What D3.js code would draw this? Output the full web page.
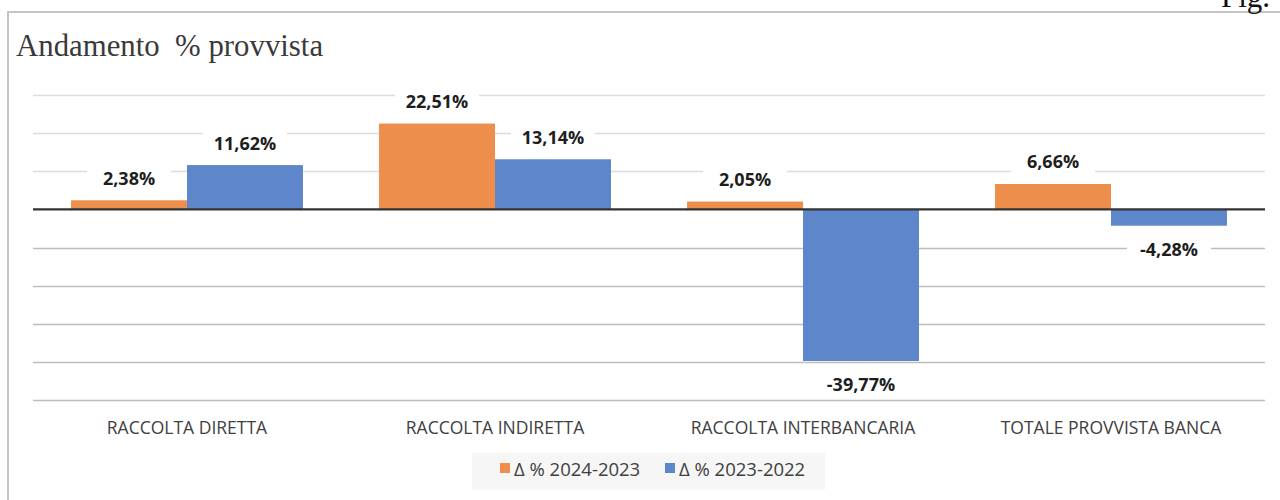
<!DOCTYPE html>
<html>
<head>
<meta charset="utf-8">
<script src="https://cdn.jsdelivr.net/npm/d3@7"></script>
<style>
  html, body { margin: 0; padding: 0; background: #fff; }
  svg { display: block; }
  text { white-space: pre; }
</style>
</head>
<body>
<svg id="chart" width="1280" height="500"></svg>
<script>
// Categories and series
const categories = ["RACCOLTA DIRETTA", "RACCOLTA INDIRETTA", "RACCOLTA INTERBANCARIA", "TOTALE PROVVISTA BANCA"];
const seriesNames = ["Δ % 2024-2023", "Δ % 2023-2022"];
const values2024_2023 = [2.38, 22.51, 2.05, 6.66];
const values2023_2022 = [11.62, 13.14, -39.77, -4.28];
const yTicks = [-50, -40, -30, -20, -10, 0, 10, 20, 30];
const colors = ["#EE8E4D", "#5E86CB"];

const seriesValues = [values2024_2023, values2023_2022];
const fmt = v => v.toFixed(2).replace(".", ",") + "%";

const svg = d3.select("#chart");
const sans = "'Open Sans', 'Liberation Sans', sans-serif";
const serif = "'Liberation Serif', 'DejaVu Serif', serif";

// Outer frame
svg.append("path")
  .attr("d", "M8,500 L8,12 L1280,12")
  .attr("fill", "none")
  .attr("stroke", "#c4c4c4")
  .attr("stroke-width", 2);

// Figure caption at top right (runs past the top of the page)
svg.append("text")
  .attr("x", 1221).attr("y", 7)
  .attr("font-family", serif).attr("font-size", 31)
  .attr("fill", "#111")
  .text("Fig.");

// Title
svg.append("text")
  .attr("x", 16).attr("y", 56)
  .attr("font-family", serif).attr("font-size", 30.8)
  .attr("fill", "#3a3a3a")
  .text("Andamento  % provvista");

// Scales
const x0 = d3.scaleBand().domain(categories).range([33, 1265]).paddingInner(0).paddingOuter(0);
const x1 = d3.scaleBand().domain(seriesNames).range([0, x0.bandwidth()]).paddingInner(0).paddingOuter(0.328);
const y = d3.scaleLinear().domain([-50, 30]).range([400, 95]);

// Gridlines
svg.append("g")
  .selectAll("line")
  .data(yTicks.filter(t => t !== 0))
  .join("line")
  .attr("x1", 33).attr("x2", 1265)
  .attr("y1", d => Math.round(y(d)) + 0.5)
  .attr("y2", d => Math.round(y(d)) + 0.5)
  .attr("stroke", d => d > 0 ? "#dcdcdc" : "#bdbdbd")
  .attr("stroke-width", 1.6);

// Bars
const groups = svg.append("g")
  .selectAll("g")
  .data(categories)
  .join("g")
  .attr("transform", d => `translate(${x0(d)},0)`);

const barData = (c, i) => seriesNames.map((s, k) => ({ s, k, v: seriesValues[k][i] }));

groups.selectAll("rect")
  .data((c, i) => barData(c, i))
  .join("rect")
  .attr("x", d => x1(d.s))
  .attr("width", x1.bandwidth())
  .attr("y", d => y(Math.max(0, d.v)))
  .attr("height", d => Math.abs(y(d.v) - y(0)))
  .attr("fill", d => colors[d.k]);

// Zero line
svg.append("line")
  .attr("x1", 33).attr("x2", 1265)
  .attr("y1", y(0)).attr("y2", y(0))
  .attr("stroke", "#333")
  .attr("stroke-width", 2.2);

// Value labels with white background
const labels = groups.selectAll("g.lbl")
  .data((c, i) => barData(c, i))
  .join("g")
  .attr("class", "lbl")
  .attr("transform", d => {
    const cx = x1(d.s) + x1.bandwidth() / 2;
    const cy = d.v >= 0 ? y(d.v) - 22 : y(d.v) + 24;
    return `translate(${cx},${cy})`;
  });

labels.append("rect")
  .attr("x", -42).attr("y", -12).attr("width", 84).attr("height", 24)
  .attr("fill", "#fff");

labels.append("text")
  .attr("text-anchor", "middle")
  .attr("dy", "0.36em")
  .attr("font-family", sans).attr("font-size", 18).attr("font-weight", "bold")
  .attr("fill", "#1e1e1e")
  .text(d => fmt(d.v));

// Category axis labels
svg.append("g")
  .selectAll("text")
  .data(categories)
  .join("text")
  .attr("x", d => x0(d) + x0.bandwidth() / 2)
  .attr("y", 434)
  .attr("text-anchor", "middle")
  .attr("font-family", sans).attr("font-size", 17.5)
  .attr("fill", "#404040")
  .text(d => d);

// Legend
const legend = svg.append("g");
legend.append("rect")
  .attr("x", 472).attr("y", 453).attr("width", 353).attr("height", 37)
  .attr("fill", "#f6f6f6");

const legendX = [500, 665];
const items = legend.selectAll("g")
  .data(seriesNames)
  .join("g")
  .attr("transform", (d, i) => `translate(${legendX[i]},0)`);

items.append("rect")
  .attr("x", 0).attr("y", 463).attr("width", 10).attr("height", 10)
  .attr("fill", (d, i) => colors[i]);

items.append("text")
  .attr("x", 14).attr("y", 476)
  .attr("font-family", sans).attr("font-size", 18.5)
  .attr("fill", "#404040")
  .text(d => d);
</script>
</body>
</html>
